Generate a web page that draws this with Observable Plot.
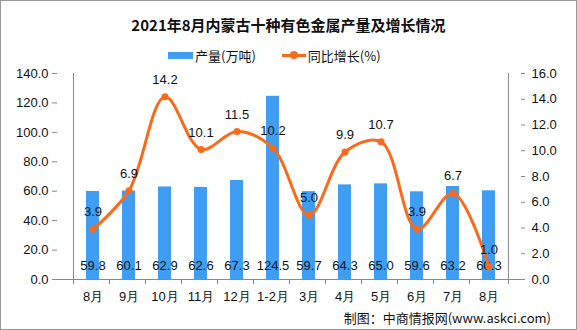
<!DOCTYPE html>
<html><head><meta charset="utf-8">
<script src="https://cdn.jsdelivr.net/npm/d3@7"></script>
<script src="https://cdn.jsdelivr.net/npm/@observablehq/plot@0.6"></script>
<style>
body{margin:0;background:#fff;}
#wrap{position:relative;width:577px;height:330px;overflow:hidden;font-family:"Noto Sans CJK SC","Liberation Sans",sans-serif;}
#frame{position:absolute;left:0;top:0;width:575px;height:328px;border:1px solid #9a9a9a;pointer-events:none;}
#title{position:absolute;left:0;width:577px;top:14px;text-align:center;font-size:15px;font-weight:bold;color:#111;}
#legend{position:absolute;top:44px;left:168px;font-size:13px;color:#111;}
#footer{position:absolute;right:26px;top:308px;font-size:13px;color:#111;}
#chart{position:absolute;left:0;top:0;}
</style></head>
<body><div id="wrap"><div id="chart"></div>
<div id="title">2021年8月内蒙古十种有色金属产量及增长情况</div>
<div id="legend"></div>
<div id="footer">制图：中商情报网(www.askci.com)</div>
<div id="frame"></div></div>
<script>
const categories = ["8月","9月","10月","11月","12月","1-2月","3月","4月","5月","6月","7月","8月 "];
const output = [59.8,60.1,62.9,62.6,67.3,124.5,59.7,64.3,65.0,59.6,63.2,60.3];
const growth = [3.9,6.9,14.2,10.1,11.5,10.2,5.0,9.9,10.7,3.9,6.7,1.0];
const leftTicks = [0,20,40,60,80,100,120,140];
const rightTicks = [0,2,4,6,8,10,12,14,16];

const barColor = "#3F9DF3", lineColor = "#F96A1B";
const k = 140/16;
const data = categories.map((c,i)=>({c, v: output[i], g: growth[i], gs: growth[i]*k}));

document.getElementById("legend").innerHTML =
 `<span style="display:inline-block;width:25px;height:7px;background:${barColor};vertical-align:middle;margin-right:2px"></span><span style="vertical-align:middle">产量(万吨)</span>`+
 `<span style="display:inline-block;width:24px;height:3px;background:${lineColor};vertical-align:middle;margin-left:26px;margin-right:2px;position:relative"><span style="position:absolute;left:8px;top:-2.5px;width:8px;height:8px;border-radius:4px;background:${lineColor}"></span></span><span style="vertical-align:middle">同比增长(%)</span>`;

const W = 577, ML = 57, MR = 53;
const half = (W - ML - MR) / categories.length / 2;
const font = "Liberation Sans, sans-serif";
const chart = Plot.plot({
  width: W, height: 330,
  marginTop: 73, marginBottom: 51, marginLeft: ML, marginRight: MR,
  style: {fontFamily: font, fontSize: "13px", color: "#111", background: "transparent"},
  x: {domain: categories, padding: 0.64, align: 0.5, axis: null},
  y: {domain: [0,140], axis: null},
  marks: [
    Plot.barY(data, {x: "c", y: "v", fill: barColor}),
    Plot.ruleY([0], {stroke: "#888"}),
    Plot.ruleX([categories[0]], {x: d => d, y1: 0, y2: 140, dx: -half, stroke: "#888"}),
    Plot.ruleX([categories[categories.length-1]], {x: d => d, y1: 0, y2: 140, dx: half, stroke: "#888"}),
    Plot.ruleX(categories, {x: d => d, y1: 0, y2: 0, insetBottom: -5, dx: -half, stroke: "#888"}),
    Plot.ruleX([categories[categories.length-1]], {x: d => d, y1: 0, y2: 0, insetBottom: -5, dx: half, stroke: "#888"}),
    Plot.axisY(leftTicks, {anchor: "left", tickSize: 5, tickFormat: d => d.toFixed(1), stroke: "#888", fill: "#111", fontSize: 13, tickPadding: 4, label: null}),
    Plot.axisY(rightTicks.map(d=>d*k), {anchor: "right", tickSize: -4, tickPadding: 11, tickFormat: d => (d/k).toFixed(1), stroke: "#888", fill: "#111", fontSize: 13, label: null}),
    Plot.axisX({anchor: "bottom", tickSize: 0, tickPadding: 12, fill: "#111", fontSize: 13, tickFormat: d => d.trim(), label: null}),
    Plot.text(data, {x: "c", y: 0, dy: -14, text: d => d.v.toFixed(1), fill: "#111", fontSize: 13}),
    Plot.line(data, {x: "c", y: "gs", stroke: lineColor, strokeWidth: 3, curve: "catmull-rom"}),
    Plot.dot(data, {x: "c", y: "gs", r: 3.5, fill: lineColor}),
    Plot.text(data, {x: "c", y: "gs", dy: -17, text: d => d.g.toFixed(1), fill: "#111", fontSize: 13})
  ]
});
document.getElementById("chart").appendChild(chart);
</script></body></html>
